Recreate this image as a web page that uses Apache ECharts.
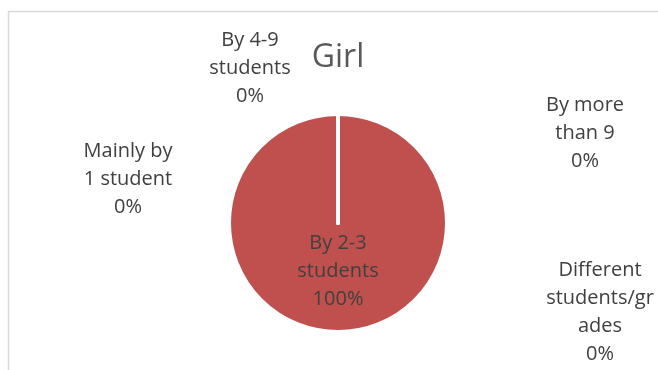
<!DOCTYPE html>
<html>
<head>
<meta charset="utf-8">
<script src="https://cdn.jsdelivr.net/npm/echarts@6/dist/echarts.min.js"></script>
<style>
html,body{margin:0;padding:0;background:#fff;}
#c{width:658px;height:370px;}
</style>
</head>
<body>
<div id="c"></div>
<script>
const titleText = 'Girl';
const categories = ['Mainly by\n1 student', 'By 2-3\nstudents', 'By 4-9\nstudents', 'By more\nthan 9', 'Different\nstudents/gr\nades'];
const values = [0, 100, 0, 0, 0];
const percentLabels = ['0%', '100%', '0%', '0%', '0%'];

// label placement (style only)
const labelPos = [
  {x: 128, y: 179},
  {x: 338, y: 271},
  {x: 250, y: 68},
  {x: 585, y: 133},
  {x: 600, y: 312}
];

const chart = echarts.init(document.getElementById('c'));
chart.setOption({
  animation: false,
  backgroundColor: '#fff',
  graphic: [{
    type: 'rect', left: 6, top: 9, silent: true,
    shape: {width: 700, height: 400},
    style: {fill: 'none', stroke: '#d9d9d9', lineWidth: 1.5}
  }],
  title: {
    text: titleText,
    left: 333, top: 33, textAlign: 'center',
    textStyle: {fontFamily: 'Open Sans', fontSize: 32, fontWeight: 'normal', color: '#595959', lineHeight: 40}
  },
  series: [{
    type: 'pie',
    center: [338, 223],
    radius: 109,
    startAngle: 90,
    clockwise: true,
    avoidLabelOverlap: false,
    itemStyle: {borderColor: '#fff', borderWidth: 4},
    color: ['#4F81BD', '#C0504D', '#9BBB59', '#8064A2', '#4BACC6'],
    label: {
      show: true,
      position: 'outside',
      fontFamily: 'Open Sans',
      fontSize: 20,
      lineHeight: 28,
      color: '#404040',
      align: 'center',
      formatter: function (p) { return categories[p.dataIndex] + '\n' + percentLabels[p.dataIndex]; }
    },
    labelLine: {show: false},
    labelLayout: function (params) {
      const pos = labelPos[params.dataIndex];
      return {x: pos.x, y: pos.y, align: 'center', verticalAlign: 'middle'};
    },
    emphasis: {disabled: true},
    data: categories.map(function (c, i) { return {name: c, value: values[i]}; })
  }]
});
</script>
</body>
</html>
